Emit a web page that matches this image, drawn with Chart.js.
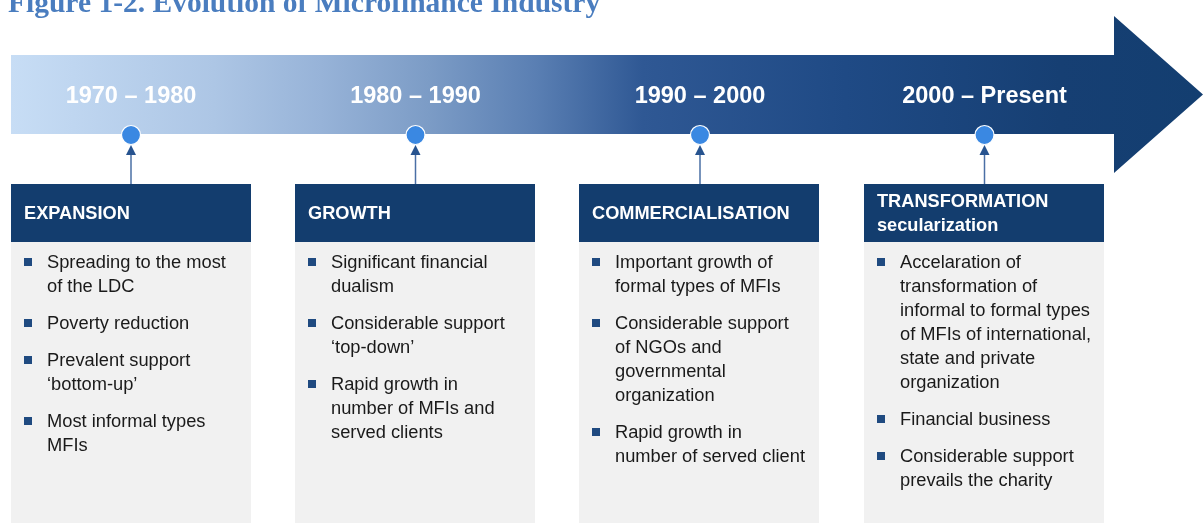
<!DOCTYPE html>
<html>
<head>
<meta charset="utf-8">
<style>
  html,body{margin:0;padding:0;background:#fff;}
  #wrap{width:1203px;height:523px;position:relative;}
</style>
<script src="https://cdn.jsdelivr.net/npm/chart.js@4"></script>
</head>
<body>
<div id="wrap"><canvas id="c" width="1203" height="523"></canvas></div>
<script>
// ---- data ----
const title = "Figure 1-2. Evolution of Microfinance Industry";
const periods = ["1970 \u2013 1980", "1980 \u2013 1990", "1990 \u2013 2000", "2000 \u2013 Present"];
const stages = [["EXPANSION"], ["GROWTH"], ["COMMERCIALISATION"], ["TRANSFORMATION", "secularization"]];
const bullets = [
  [["Spreading to the most", "of the LDC"], ["Poverty reduction"], ["Prevalent support", "\u2018bottom-up\u2019"], ["Most informal types", "MFIs"]],
  [["Significant financial", "dualism"], ["Considerable support", "\u2018top-down\u2019"], ["Rapid growth in", "number of MFIs and", "served clients"]],
  [["Important growth of", "formal types of MFIs"], ["Considerable support", "of NGOs and", "governmental", "organization"], ["Rapid growth in", "number of served client"]],
  [["Accelaration of", "transformation of", "informal to formal types", "of MFIs of international,", "state and private", "organization"], ["Financial business"], ["Considerable support", "prevails the charity"]]
];
const timelineLevel = periods.map(() => 135);

// ---- drawing plugin ----
const SANS = '"Liberation Sans", Arial, sans-serif';
const timelinePlugin = {
  id: 'timeline',
  beforeDatasetsDraw(chart) {
    const ctx = chart.ctx, xs = chart.scales.x, ys = chart.scales.y;
    ctx.save();
    // title
    ctx.fillStyle = '#4a7dbf';
    ctx.font = 'bold 29.5px "Liberation Serif", "Times New Roman", serif';
    ctx.textBaseline = 'alphabetic';
    ctx.textAlign = 'left';
    ctx.fillText(title, 8, 12);

    // big arrow
    const bodyL = 11, bodyR = 1114, bodyT = 55, bodyB = 134, headT = 16, headB = 173, tipX = 1203, midY = 94.5;
    const g = ctx.createLinearGradient(bodyL, 0, tipX, 0);
    g.addColorStop(0.00, '#c7ddf5');
    g.addColorStop(0.17, '#adc6e5');
    g.addColorStop(0.26, '#97b3d8');
    g.addColorStop(0.35, '#7c9cc6');
    g.addColorStop(0.44, '#5a7fb3');
    g.addColorStop(0.53, '#2f5894');
    g.addColorStop(0.70, '#1f4a85');
    g.addColorStop(0.88, '#163f73');
    g.addColorStop(1.00, '#133e70');
    ctx.fillStyle = g;
    ctx.beginPath();
    ctx.moveTo(bodyL, bodyT);
    ctx.lineTo(bodyR, bodyT);
    ctx.lineTo(bodyR, headT);
    ctx.lineTo(tipX, midY);
    ctx.lineTo(bodyR, headB);
    ctx.lineTo(bodyR, bodyB);
    ctx.lineTo(bodyL, bodyB);
    ctx.closePath();
    ctx.fill();

    // period labels
    ctx.fillStyle = '#ffffff';
    ctx.font = 'bold 23.5px ' + SANS;
    ctx.textAlign = 'center';
    ctx.textBaseline = 'middle';
    periods.forEach((p, i) => {
      ctx.fillText(p, xs.getPixelForValue(i), 97);
    });

    // boxes
    const boxW = 240, headTop = 184, headBot = 242;
    periods.forEach((p, i) => {
      const cx = xs.getPixelForValue(i);
      const L = Math.round(cx - 120.5);
      // connector
      const dotY = ys.getPixelForValue(timelineLevel[i]);
      ctx.strokeStyle = '#4a6fa5';
      ctx.lineWidth = 1.5;
      ctx.beginPath();
      ctx.moveTo(cx, headTop);
      ctx.lineTo(cx, dotY + 18);
      ctx.stroke();
      ctx.fillStyle = '#27538f';
      ctx.beginPath();
      ctx.moveTo(cx, dotY + 10);
      ctx.lineTo(cx - 5, dotY + 20);
      ctx.lineTo(cx + 5, dotY + 20);
      ctx.closePath();
      ctx.fill();
      // body
      ctx.fillStyle = '#f1f1f1';
      ctx.fillRect(L, headBot, boxW, 523 - headBot);
      // header
      ctx.fillStyle = '#133d6e';
      ctx.fillRect(L, headTop, boxW, headBot - headTop);
      ctx.fillStyle = '#ffffff';
      ctx.font = 'bold 18.2px ' + SANS;
      ctx.textAlign = 'left';
      ctx.textBaseline = 'middle';
      const hs = stages[i];
      if (hs.length === 1) {
        ctx.fillText(hs[0], L + 13, 213.5);
      } else {
        ctx.fillText(hs[0], L + 13, 201.5);
        ctx.fillText(hs[1], L + 13, 225.5);
      }
      // bullets
      let y = 262;
      bullets[i].forEach(item => {
        ctx.fillStyle = '#1f4a80';
        ctx.fillRect(L + 13, y - 4, 8, 8);
        ctx.fillStyle = '#1a1a1a';
        ctx.font = '18.3px ' + SANS;
        item.forEach((line, k) => {
          ctx.fillText(line, L + 36, y + 1);
          if (k < item.length - 1) y += 24;
        });
        y += 37;
      });
    });
    ctx.restore();
  }
};

new Chart(document.getElementById('c'), {
  type: 'scatter',
  data: {
    datasets: [{
      data: periods.map((p, i) => ({ x: i, y: timelineLevel[i] })),
      pointRadius: 9.5,
      pointHoverRadius: 9.5,
      pointBackgroundColor: '#3a88e2',
      pointBorderColor: '#ffffff',
      pointBorderWidth: 1.2,
      clip: false
    }]
  },
  options: {
    responsive: false,
    animation: false,
    events: [],
    layout: { padding: 0, autoPadding: false },
    plugins: { legend: { display: false }, tooltip: { enabled: false } },
    scales: {
      x: { type: 'linear', display: false, min: -131 / 284.5, max: -131 / 284.5 + 1203 / 284.5 },
      y: { type: 'linear', display: false, reverse: true, min: 0, max: 523 }
    }
  },
  plugins: [timelinePlugin]
});
</script>
</body>
</html>
